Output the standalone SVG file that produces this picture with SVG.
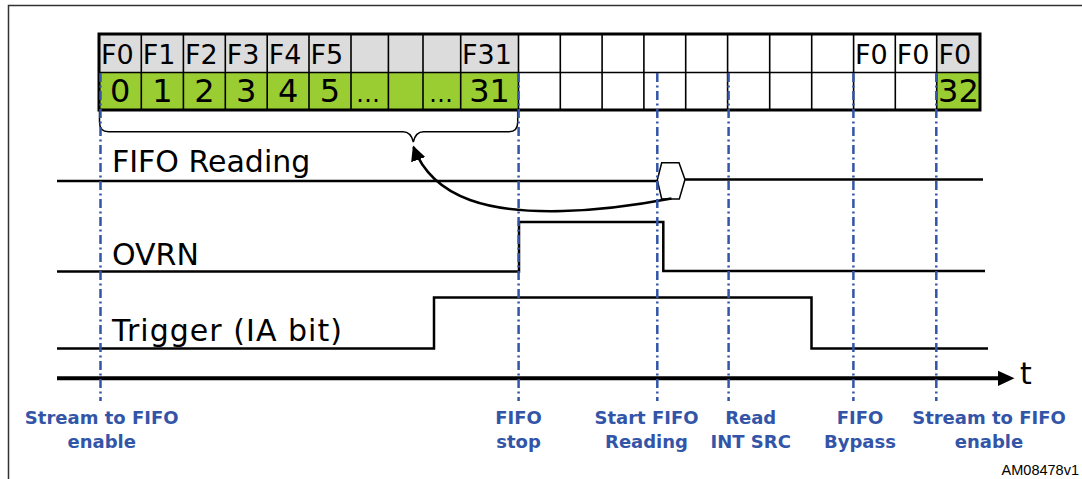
<svg xmlns="http://www.w3.org/2000/svg" width="1082" height="479" viewBox="0 0 1082 479">
<style>
.frame{fill:none;stroke:#333;stroke-width:1.5}
.gray{fill:#DCDCDC}
.green{fill:#9ACD32}
.white{fill:#FFFFFF}
.grid{fill:none;stroke:#000;stroke-width:1.6}
.outer{fill:none;stroke:#000;stroke-width:3}
.hdr{font-family:"DejaVu Sans",Verdana,sans-serif;font-size:27px;fill:#000}
.num{font-family:"DejaVu Sans",Verdana,sans-serif;font-size:32px;fill:#000;text-anchor:middle}
.ell{font-family:"DejaVu Sans",Verdana,sans-serif;font-size:24px;fill:#000}
.sig{fill:none;stroke:#000;stroke-width:2.5}
.lbl{font-family:"DejaVu Sans",Verdana,sans-serif;font-size:30px;fill:#000}
.marker{fill:none;stroke:#3355A8;stroke-width:2.5;stroke-dasharray:9 3.5 2 3.5}
.blue{font-family:"DejaVu Sans",Verdana,sans-serif;font-weight:bold;font-size:18px;fill:#3355A8;text-anchor:middle}
.thin{fill:none;stroke:#000;stroke-width:1.5}
</style>
<defs>
<marker id="ah" viewBox="0 0 10 10" refX="9" refY="5" markerWidth="15" markerHeight="15" markerUnits="userSpaceOnUse" orient="auto">
<path d="M0,0 L10,5 L0,10 z" fill="#000"/>
</marker>
</defs>
<path class="frame" d="M8.5,479 V5.5 H1082"/>

<g id="fifo-table">
<rect class="gray" x="99" y="34" width="419.5" height="38.5"/>
<rect class="green" x="99" y="72.5" width="419.5" height="37.5"/>
<rect class="white" x="518.5" y="34" width="418.2" height="76"/>
<rect class="gray" x="936.7" y="34" width="43.3" height="38.5"/>
<rect class="green" x="936.7" y="72.5" width="43.3" height="37.5"/>
<path class="grid" d="M99,72.5 H980 M141.3,34 V110 M183.4,34 V110 M225.3,34 V110 M267.2,34 V110 M309,34 V110 M351,34 V110 M388.4,34 V110 M423,34 V110 M460.7,34 V110 M518.5,34 V110 M560.3,34 V110 M602.1,34 V110 M643.9,34 V110 M685.7,34 V110 M727.6,34 V110 M769.7,34 V110 M811.7,34 V110 M853.6,34 V110 M895.3,34 V110 M936.7,34 V110"/>
<rect class="outer" x="99" y="34" width="881" height="76"/>
<text class="hdr" x="101" y="63.5">F0</text>
<text class="hdr" x="142.8" y="63.5">F1</text>
<text class="hdr" x="184.9" y="63.5">F2</text>
<text class="hdr" x="226.8" y="63.5">F3</text>
<text class="hdr" x="268.7" y="63.5">F4</text>
<text class="hdr" x="310.5" y="63.5">F5</text>
<text class="hdr" x="462" y="63.5">F31</text>
<text class="hdr" x="855.1" y="63.5">F0</text>
<text class="hdr" x="896.8" y="63.5">F0</text>
<text class="hdr" x="938.4" y="63.5">F0</text>
<text class="num" x="120.2" y="102">0</text>
<text class="num" x="162.4" y="102">1</text>
<text class="num" x="204.4" y="102">2</text>
<text class="num" x="246.3" y="102">3</text>
<text class="num" x="288.1" y="102">4</text>
<text class="num" x="330" y="102">5</text>
<text class="ell" x="356" y="102">…</text>
<text class="ell" x="429" y="102">…</text>
<text class="num" x="489.6" y="102">31</text>
<text class="num" x="958.4" y="102">32</text>
</g>

<g id="brace">
<path class="thin" d="M99.5,111 V122 Q99.5,131.7 108.5,131.7 H403 Q411,131.7 413.3,142 Q415.6,131.7 423.5,131.7 H509 Q517.7,131.7 517.7,122 V111"/>
</g>

<g id="fifo-reading">
<text class="lbl" x="112" y="171.5">FIFO Reading</text>
<path class="sig" d="M57,181 H657.3 M685,179.5 H983"/>
<polygon class="thin" fill="#FFFFFF" points="657.3,180 661.7,162.7 679,162.7 685,179.5 679.3,199 661.7,199"/>
</g>

<g id="ovrn">
<text class="lbl" x="112" y="265">OVRN</text>
<path class="sig" d="M57,271.5 H519 V222 H663.3 V271 H985"/>
</g>

<g id="trigger">
<text class="lbl" x="112" y="341" textLength="230" lengthAdjust="spacing">Trigger (IA bit)</text>
<path class="sig" d="M57,348.5 H434 V297.5 H811.5 V348.5 H988"/>
</g>

<g id="time-axis">
<path fill="none" stroke="#000" stroke-width="4" d="M57,378.3 H1000"/>
<polygon points="998,370.7 1014.5,378.3 998,385.9" fill="#000"/>
<text class="lbl" x="1020" y="384">t</text>
</g>

<g id="connectors">
<path fill="none" stroke="#000" stroke-width="2.5" d="M671.5,198.5 C600,212 520,218 470,200 C440,189 422,170 413.5,147" marker-end="url(#ah)"/>
</g>

<g id="event-markers">
<path class="marker" d="M100.5,73 V401"/>
<path class="marker" d="M518.6,73 V401"/>
<path class="marker" d="M657.3,73 V401"/>
<path class="marker" d="M728.6,73 V401"/>
<path class="marker" d="M853.4,73 V401"/>
<path class="marker" d="M936.3,73 V401"/>
</g>

<g id="event-labels">
<text class="blue" x="101.7" y="424">Stream to FIFO</text>
<text class="blue" x="101.7" y="447.5">enable</text>
<text class="blue" x="518.5" y="424">FIFO</text>
<text class="blue" x="518.5" y="447.5">stop</text>
<text class="blue" x="646.5" y="424">Start FIFO</text>
<text class="blue" x="646.5" y="447.5">Reading</text>
<text class="blue" x="750.7" y="424">Read</text>
<text class="blue" x="750.7" y="447.5">INT SRC</text>
<text class="blue" x="860" y="424">FIFO</text>
<text class="blue" x="860" y="447.5">Bypass</text>
<text class="blue" x="989" y="424">Stream to FIFO</text>
<text class="blue" x="989" y="447.5">enable</text>
</g>

<text x="1079" y="475" font-family="'Liberation Sans',Arial,sans-serif" font-size="14.5" text-anchor="end" fill="#000">AM08478v1</text>
</svg>
